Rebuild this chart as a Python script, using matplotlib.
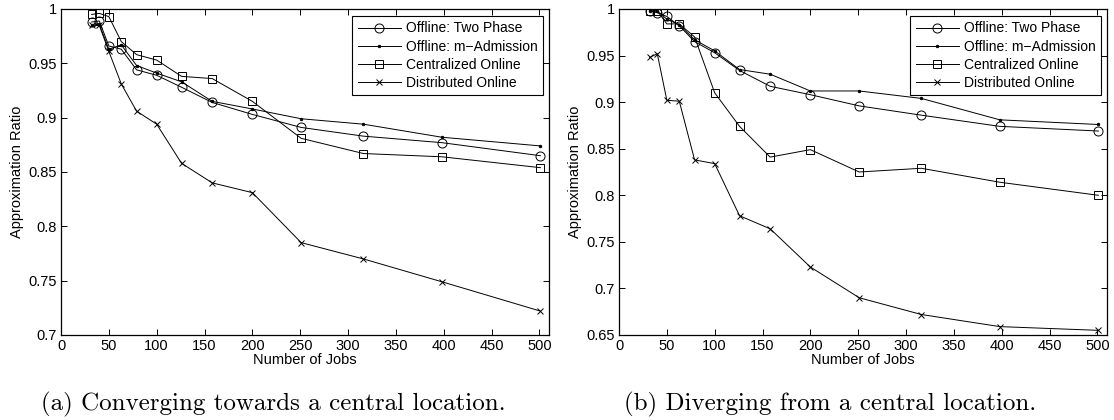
import matplotlib
matplotlib.use("Agg")
import matplotlib.pyplot as plt
from matplotlib.ticker import FuncFormatter, MultipleLocator

plt.rcParams['font.family'] = ['Liberation Sans', 'DejaVu Sans']

# Number of jobs (log-spaced sample points)
jobs = [32, 40, 50, 63, 79, 100, 126, 158, 200, 251, 316, 398, 501]

series_names = ["Offline: Two Phase", "Offline: m\u2212Admission",
                "Centralized Online", "Distributed Online"]

# (a) Converging towards a central location
a_two_phase = [0.988, 0.989, 0.966, 0.963, 0.944, 0.939, 0.928, 0.914, 0.903, 0.891, 0.883, 0.877, 0.865]
a_m_admission = [0.985, 0.986, 0.963, 0.967, 0.948, 0.941, 0.933, 0.915, 0.908, 0.899, 0.894, 0.882, 0.874]
a_centralized = [0.995, 0.996, 0.993, 0.970, 0.958, 0.953, 0.938, 0.936, 0.915, 0.881, 0.867, 0.864, 0.854]
a_distributed = [0.985, 0.985, 0.961, 0.931, 0.906, 0.894, 0.858, 0.840, 0.831, 0.785, 0.770, 0.749, 0.722]

# (b) Diverging from a central location
b_two_phase = [0.998, 0.996, 0.992, 0.982, 0.965, 0.953, 0.934, 0.917, 0.908, 0.896, 0.886, 0.874, 0.869]
b_m_admission = [0.998, 0.998, 0.989, 0.983, 0.967, 0.955, 0.935, 0.930, 0.912, 0.912, 0.904, 0.881, 0.876]
b_centralized = [0.998, 0.998, 0.984, 0.984, 0.970, 0.910, 0.874, 0.841, 0.849, 0.825, 0.829, 0.814, 0.800]
b_distributed = [0.948, 0.952, 0.902, 0.901, 0.838, 0.834, 0.778, 0.764, 0.723, 0.690, 0.672, 0.659, 0.655]

xticks = list(range(0, 501, 50))
captions = ["(a) Converging towards a central location.",
            "(b) Diverging from a central location."]

fig = plt.figure(figsize=(11.14, 4.2), dpi=100)
W, H = 1114, 420

def add_axes(x0, x1, y0, y1):
    return fig.add_axes([x0 / W, 1 - y1 / H, (x1 - x0) / W, (y1 - y0) / H])

ax_a = add_axes(61, 549, 9, 335)
ax_b = add_axes(619, 1107, 9, 335)

styles = [
    dict(marker='o', ms=6.5, mfc='none'),
    dict(marker='.', ms=3.5),
    dict(marker='s', ms=6, mfc='none'),
    dict(marker='x', ms=5),
]

fs = 10.5

def draw(ax, data, ylim, ystep):
    for name, ys, st in zip(series_names, data, styles):
        ax.plot(jobs, ys, color='black', lw=0.7, mec='black', mew=0.7, label=name, **st)
    ax.set_xlim(0, 510)
    ax.set_ylim(*ylim)
    ax.set_xticks(xticks)
    ax.yaxis.set_major_locator(MultipleLocator(ystep))
    ax.yaxis.set_major_formatter(FuncFormatter(lambda v, p: '%g' % round(v, 4)))
    ax.tick_params(direction='in', top=True, right=True, length=4.5, width=0.7,
                   labelsize=fs, pad=3, colors='black')
    for s in ax.spines.values():
        s.set_linewidth(0.9)
    ax.set_xlabel("Number of Jobs", fontsize=fs, labelpad=0)
    ax.set_ylabel("Approximation Ratio", fontsize=fs, labelpad=3)
    leg = ax.legend(loc='upper right', bbox_to_anchor=(0.988, 0.979), fontsize=10,
                    frameon=True, fancybox=False, edgecolor='black', framealpha=1,
                    handlelength=3.1, handletextpad=0.35, borderpad=0.4,
                    labelspacing=0.3, borderaxespad=0)
    leg.get_frame().set_linewidth(0.8)

draw(ax_a, [a_two_phase, a_m_admission, a_centralized, a_distributed], (0.7, 1.0), 0.05)
draw(ax_b, [b_two_phase, b_m_admission, b_centralized, b_distributed], (0.65, 1.0), 0.05)

fig.text(273.5 / W, 1 - 404 / H, captions[0], ha='center', va='center',
         fontsize=18, family=['cmr10', 'DejaVu Serif'])
fig.text(830 / W, 1 - 404 / H, captions[1], ha='center', va='center',
         fontsize=18, family=['cmr10', 'DejaVu Serif'])

fig.savefig("out.png", dpi=100)
